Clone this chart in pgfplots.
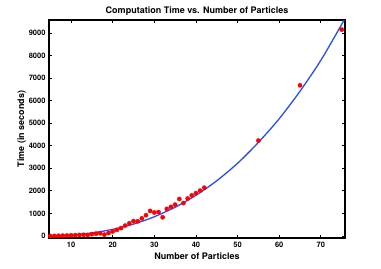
\documentclass[border=0pt]{standalone}
\usepackage{pgfplots}
\pgfplotsset{compat=1.18}
\usepackage{fontspec}
\setmainfont{TeX Gyre Heros}
\definecolor{fitblue}{rgb}{0.15,0.3,1}
\begin{document}
\begin{tikzpicture}
\begin{axis}[
  scale only axis, width=296pt, height=218pt,
  xmin=4.7, xmax=75.8, ymin=-90, ymax=9576,
  xtick={10,20,30,40,50,60,70},
  ytick={0,1000,2000,3000,4000,5000,6000,7000,8000,9000},
  tick align=inside, tick pos=both,
  major tick length=3pt,
  axis line style={line width=1.3pt},
  every tick/.style={black, line width=0.8pt},
  /pgf/number format/assume math mode=true,
  /pgf/number format/set thousands separator={},
  tick label style={font=\bfseries\fontsize{7.5}{8}\selectfont},
  xticklabel style={yshift=-1pt},
  label style={font=\bfseries\fontsize{9}{10}\selectfont},
  xlabel={Number of Particles},
  ylabel={Time (in seconds)},
  xlabel style={yshift=2pt},
  ylabel style={yshift=-4pt},
  title={Computation Time vs. Number of Particles},
  title style={font=\bfseries\fontsize{9}{10}\selectfont, yshift=-5pt},
  clip=true,
]
\addplot[fitblue, line width=1.3pt, smooth] coordinates {
(5,7.7) (7.5,24) (10,47) (12.5,85) (15,138) (17.5,207) (20,294) (22.5,402) (25,528) (27.5,680) (30,853) (35,1275) (40,1805) (45,2450) (50,3225) (55,4150) (60,5200) (65,6420) (70,7790) (75,9380) (76,9720)
};
\addplot[only marks, mark=*, mark size=2.1pt, red, mark options={draw=red, fill=red}] coordinates {
(5,0) (6,5) (7,10) (8,15) (9,20) (10,30) (11,35) (12,45) (13,55) (14,40)
(15,80) (16,100) (17,120) (18,60) (19,130) (20,200) (21,270) (22,350) (23,460) (24,560)
(25,660) (26,650) (27,780) (28,920) (29,1110) (30,1040) (31,1060) (32,830) (33,1200) (34,1290)
(35,1390) (36,1640) (37,1460) (38,1660) (39,1800) (40,1900) (41,2010) (42,2140)
(55,4230) (65,6680) (75,9150)
};
\coordinate (ll) at (rel axis cs:0,0);
\coordinate (ur) at (rel axis cs:1,1);
\end{axis}
\pgfresetboundingbox
\useasboundingbox ([shift={(-49pt,-30pt)}]ll) rectangle ([shift={(36pt,20pt)}]ur);
\end{tikzpicture}
\end{document}
